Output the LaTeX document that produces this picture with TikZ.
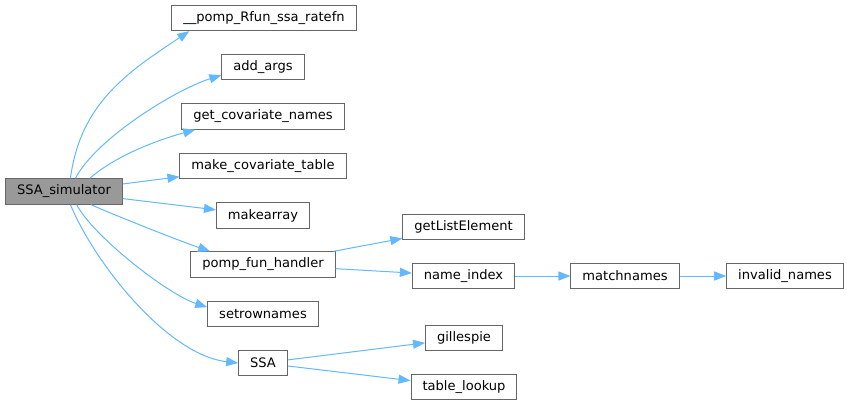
\documentclass[tikz,border=0pt]{standalone}
\usepackage{fontspec}
\setmainfont{DejaVu Sans}
\usetikzlibrary{arrows.meta}
\definecolor{boxline}{HTML}{666666}
\definecolor{rootfill}{HTML}{999999}
\definecolor{callblue}{HTML}{63B8FF}

\begin{document}
\begin{tikzpicture}[x=0.75pt,y=-0.75pt,
  fn/.style={draw=boxline, line width=0.75pt, fill=white, inner xsep=8.6pt,
    inner ysep=0pt, minimum height=19pt, font=\fontsize{9.8pt}{11pt}\selectfont},
  root/.style={fn, fill=rootfill},
  call/.style={draw=callblue, line width=0.75pt,
    -{Triangle[length=9pt,width=6.8pt]}}]
  \useasboundingbox (0,0) rectangle (849,405);
  \node[root] (sim) at (64,191.5) {SSA\_simulator};
  \node[fn] (ratefn) at (264,18) {\_\_pomp\_Rfun\_ssa\_ratefn};
  \node[fn] (addargs) at (263,67) {add\_args};
  \node[fn] (getcov) at (263,116.5) {get\_covariate\_names};
  \node[fn] (mkcov) at (263,166) {make\_covariate\_table};
  \node[fn] (mkarray) at (263,215.5) {makearray};
  \node[fn] (handler) at (263,264.5) {pomp\_fun\_handler};
  \node[fn] (setrow) at (263,314) {setrownames};
  \node[fn] (ssa) at (263,363) {SSA};
  \node[fn] (getlist) at (463.5,227) {getListElement};
  \node[fn] (nameidx) at (463.5,276) {name\_index};
  \node[fn] (matchn) at (625,276) {matchnames};
  \node[fn] (invalid) at (785,276) {invalid\_names};
  \node[fn] (gillespie) at (464,338) {gillespie};
  \node[fn] (lookup) at (464,387) {table\_lookup};
  \draw[call] (sim.64) .. controls +(10,-76) and +(-60,40) .. (ratefn.190);
  \draw[call] (sim.49) .. controls +(20,-39) and +(-47,15) .. (addargs.191);
  \draw[call] (sim.27) .. controls +(25,-22) and +(-40,11) .. (getcov.191);
  \draw[call] (sim) -- (mkcov);
  \draw[call] (sim) -- (mkarray);
  \draw[call] (sim.-26) .. controls +(20,9) and +(-35,-12) .. (handler.166);
  \draw[call] (sim.-46) .. controls +(16,31) and +(-40,-13) .. (setrow.173);
  \draw[call] (sim.-64) .. controls +(25,60) and +(-70,-8) .. (ssa.west);
  \draw[call] (handler) -- (getlist);
  \draw[call] (handler) -- (nameidx);
  \draw[call] (nameidx) -- (matchn);
  \draw[call] (matchn) -- (invalid);
  \draw[call] (ssa) -- (gillespie);
  \draw[call] (ssa) -- (lookup);
\end{tikzpicture}
\end{document}
